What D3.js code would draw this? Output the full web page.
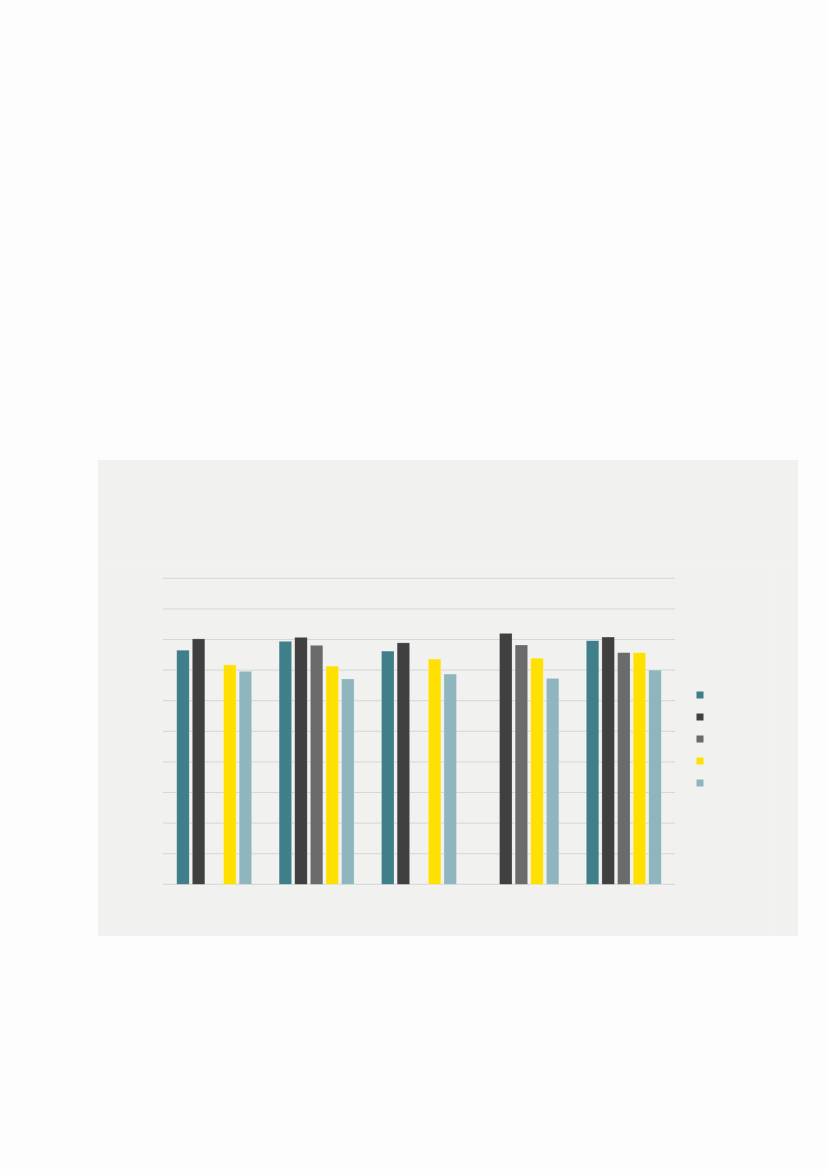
<!doctype html>
<html>
<head>
<meta charset="utf-8"/>
<title>Bars</title>
<style>
body{margin:0;background:#fdfdfd;}
</style>
<script src="https://d3js.org/d3.v7.min.js"></script>
</head>
<body>
<script type="text/javascript">
// data (no labels shown on the chart)
var groups = ["G1", "G2", "G3", "G4", "G5"];
var seriesNames = ["S1", "S2", "S3", "S4", "S5"];
var s1 = [76.5, 79.4, 76.2, null, 79.6];
var s2 = [80.2, 80.7, 78.9, 82.0, 80.8];
var s3 = [null, 78.1, null, 78.2, 75.7];
var s4 = [71.7, 71.3, 73.6, 73.9, 75.7];
var s5 = [69.6, 67.1, 68.7, 67.3, 70.0];
var gridTicks = [0, 10, 20, 30, 40, 50, 60, 70, 80, 90, 100];
var colours = ["#3f7f8a", "#404040", "#6b6b6b", "#ffe000", "#8fb6be"];

var series = [s1, s2, s3, s4, s5];

var svg = d3.select("body")
    .append("svg")
    .attr("width", 827)
    .attr("height", 1169);

// panel
svg.append("rect")
    .attr("x", 98).attr("y", 460)
    .attr("width", 700).attr("height", 476)
    .attr("fill", "#f1f1ef");
// faint inner frame
svg.append("line")
    .attr("x1", 98).attr("x2", 798).attr("y1", 563.5).attr("y2", 563.5)
    .attr("stroke", "#f3f3f1").attr("stroke-width", 1);
svg.append("line")
    .attr("x1", 770.5).attr("x2", 770.5).attr("y1", 563).attr("y2", 936)
    .attr("stroke", "#f3f3f1").attr("stroke-width", 1);

var x0 = d3.scaleBand().domain(groups).range([163, 675]).paddingInner(0.268).paddingOuter(0.134);
var x1 = d3.scaleBand().domain(seriesNames).range([0, x0.bandwidth()]).paddingInner(0.2).paddingOuter(0);
var y = d3.scaleLinear().domain([0, 100]).range([884.3, 578.3]);

// grid
svg.selectAll("line.grid")
    .data(gridTicks)
    .enter()
    .append("line")
    .attr("class", "grid")
    .attr("x1", 163).attr("x2", 675)
    .attr("y1", function(d){ return y(d); })
    .attr("y2", function(d){ return y(d); })
    .attr("stroke", "#d6d6d4")
    .attr("stroke-width", 1);

// bars
var cells = [];
for (var i = 0; i < groups.length; i++) {
    for (var j = 0; j < series.length; j++) {
        if (series[j][i] != null) cells.push({g: groups[i], s: seriesNames[j], k: j, v: series[j][i]});
    }
}

svg.selectAll("rect.bar")
    .data(cells)
    .enter()
    .append("rect")
    .attr("class", "bar")
    .attr("x", function(d){ return x0(d.g) + x1(d.s); })
    .attr("y", function(d){ return y(d.v); })
    .attr("width", x1.bandwidth())
    .attr("height", function(d){ return y(0) - y(d.v); })
    .attr("fill", function(d){ return colours[d.k]; })
    .attr("stroke", "rgba(255,255,255,0.35)")
    .attr("stroke-width", 0.6);

// legend
var ly = d3.scalePoint().domain(seriesNames).range([695, 783]);
svg.selectAll("rect.leg")
    .data(seriesNames)
    .enter()
    .append("rect")
    .attr("class", "leg")
    .attr("x", 696.5)
    .attr("y", function(d){ return ly(d) - 3.5; })
    .attr("width", 7).attr("height", 7)
    .attr("fill", function(d, i){ return colours[i]; });
</script>
</body>
</html>
